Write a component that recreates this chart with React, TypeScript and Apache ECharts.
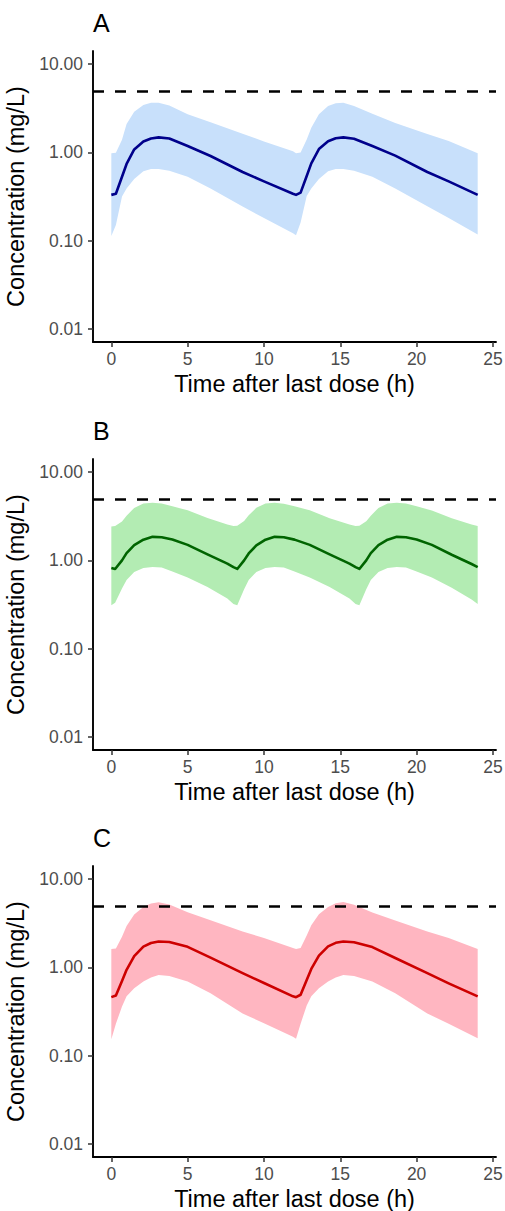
import React, { useEffect, useRef } from "react";
import * as echarts from "echarts";

// ---------- data ----------
const THRESHOLD = 5; // mg/L dashed reference line
const X_TICKS = [0, 5, 10, 15, 20, 25];
const Y_TICKS = [0.01, 0.1, 1, 10];
const PANEL_LABELS = ["A", "B", "C"];
const X_TITLE = "Time after last dose (h)";
const Y_TITLE = "Concentration (mg/L)";

// Panel A (q12h)
const tA = [0, 0.3, 0.7, 1.0, 1.5, 2.1, 2.6, 3.1, 3.8, 5.0, 6.5, 8.6, 10.0, 11.9,
  12.1, 12.4, 12.8, 13.1, 13.6, 14.2, 14.7, 15.2, 15.9, 17.1, 18.6, 20.7, 22.1, 24.0];
const medA = [0.33, 0.34, 0.53, 0.74, 1.08, 1.33, 1.44, 1.48, 1.44, 1.18, 0.91, 0.60, 0.47, 0.34,
  0.33, 0.35, 0.54, 0.75, 1.09, 1.34, 1.45, 1.48, 1.43, 1.18, 0.92, 0.60, 0.47, 0.33];
const hiA = [0.98, 0.99, 1.39, 2.10, 2.90, 3.45, 3.65, 3.65, 3.40, 2.70, 2.20, 1.63, 1.33, 1.03,
  0.98, 1.00, 1.40, 1.90, 2.70, 3.35, 3.62, 3.65, 3.35, 2.75, 2.15, 1.62, 1.35, 0.98];
const loA = [0.113, 0.150, 0.316, 0.390, 0.500, 0.610, 0.650, 0.650, 0.620, 0.530, 0.390, 0.243, 0.180, 0.121,
  0.115, 0.160, 0.320, 0.390, 0.500, 0.610, 0.650, 0.650, 0.620, 0.530, 0.390, 0.245, 0.180, 0.117];

// Panel B (q8h)
const tB = [0, 0.25, 0.7, 1.0, 1.5, 2.1, 2.7, 3.3, 4.0, 5.0, 6.3, 7.6,
  8.0, 8.25, 8.7, 9.0, 9.5, 10.1, 10.7, 11.3, 12.0, 13.0, 14.3, 15.6,
  16.0, 16.25, 16.7, 17.0, 17.5, 18.1, 18.7, 19.3, 20.0, 21.0, 22.3, 23.6, 24.0];
const medB = [0.82, 0.80, 1.00, 1.21, 1.49, 1.72, 1.85, 1.83, 1.73, 1.50, 1.17, 0.92,
  0.84, 0.80, 1.00, 1.20, 1.48, 1.72, 1.85, 1.83, 1.72, 1.50, 1.17, 0.92,
  0.84, 0.80, 1.00, 1.21, 1.49, 1.72, 1.85, 1.83, 1.73, 1.50, 1.16, 0.91, 0.84];
const hiB = [2.43, 2.45, 2.77, 3.22, 3.94, 4.41, 4.50, 4.41, 4.11, 3.70, 3.02, 2.55,
  2.46, 2.47, 2.80, 3.25, 3.95, 4.42, 4.50, 4.40, 4.10, 3.70, 3.00, 2.55,
  2.46, 2.47, 2.78, 3.22, 3.94, 4.41, 4.52, 4.41, 4.10, 3.68, 3.00, 2.55, 2.45];
const loB = [0.31, 0.33, 0.48, 0.60, 0.74, 0.82, 0.84, 0.83, 0.75, 0.64, 0.50, 0.37,
  0.32, 0.31, 0.47, 0.60, 0.74, 0.82, 0.84, 0.83, 0.75, 0.64, 0.50, 0.37,
  0.32, 0.31, 0.47, 0.60, 0.74, 0.82, 0.84, 0.83, 0.75, 0.64, 0.49, 0.36, 0.32];

// Panel C (q12h)
const tC = [0, 0.3, 0.7, 1.0, 1.5, 2.1, 2.6, 3.1, 3.8, 5.0, 6.5, 8.6, 10.0, 11.9,
  12.1, 12.4, 12.8, 13.1, 13.6, 14.2, 14.7, 15.2, 15.9, 17.1, 18.6, 20.7, 22.1, 24.0];
const medC = [0.46, 0.48, 0.70, 0.94, 1.34, 1.72, 1.89, 1.97, 1.94, 1.71, 1.29, 0.86, 0.665, 0.47,
  0.46, 0.49, 0.72, 0.96, 1.36, 1.73, 1.90, 1.97, 1.93, 1.70, 1.28, 0.86, 0.66, 0.47];
const hiC = [1.62, 1.64, 2.23, 2.95, 3.97, 4.84, 5.30, 5.48, 5.16, 4.22, 3.42, 2.56, 2.16, 1.66,
  1.62, 1.66, 2.30, 3.00, 4.00, 4.85, 5.35, 5.50, 5.15, 4.20, 3.40, 2.55, 2.15, 1.62];
const loC = [0.153, 0.23, 0.36, 0.47, 0.58, 0.69, 0.77, 0.82, 0.80, 0.69, 0.51, 0.30, 0.233, 0.164,
  0.155, 0.23, 0.37, 0.47, 0.58, 0.69, 0.77, 0.82, 0.80, 0.69, 0.51, 0.30, 0.23, 0.157];

const PANELS = [
  { t: tA, med: medA, lo: loA, hi: hiA, line: "#00008b", band: "#c8e0fb" },
  { t: tB, med: medB, lo: loB, hi: hiB, line: "#006400", band: "#b3ecb3" },
  { t: tC, med: medC, lo: loC, hi: hiC, line: "#cd0000", band: "#ffb6c1" },
];

// ---------- layout ----------
const FONT = "'Liberation Sans', Arial, sans-serif";
const GRID_LEFT = 93;
const GRID_RIGHT = 9;
const GRID_H = 291;
const GRID_TOPS = [51, 459, 866];
const LABEL_Y = [24, 432, 839];

export default function App() {
  const ref = useRef<HTMLDivElement>(null);
  useEffect(() => {
    if (!ref.current) return;
    const chart = echarts.init(ref.current, null, { renderer: "svg" });

    const grid: any[] = [];
    const xAxis: any[] = [];
    const yAxis: any[] = [];
    const series: any[] = [];
    const graphic: any[] = [];

    PANELS.forEach((p, i) => {
      grid.push({
        left: GRID_LEFT,
        right: GRID_RIGHT,
        top: GRID_TOPS[i],
        height: GRID_H,
        containLabel: false,
        outerBoundsMode: "none",
      });
      xAxis.push({
        type: "value",
        gridIndex: i,
        min: -1.2,
        max: 25.2,
        name: X_TITLE,
        nameLocation: "middle",
        nameGap: 30,
        nameTextStyle: { fontSize: 23.5, color: "#000", fontFamily: FONT },
        axisLine: { show: true, onZero: false, lineStyle: { color: "#000", width: 1.9 } },
        axisTick: { show: true, length: 5, customValues: X_TICKS, lineStyle: { color: "#333", width: 1.5 } },
        axisLabel: { show: true, customValues: X_TICKS, margin: 8, fontSize: 17.5, color: "#4d4d4d", fontFamily: FONT },
        splitLine: { show: false },
      });
      yAxis.push({
        type: "log",
        logBase: 10,
        gridIndex: i,
        min: Math.pow(10, -2.15),
        max: Math.pow(10, 1.15),
        name: Y_TITLE,
        nameLocation: "middle",
        nameGap: 56,
        nameTextStyle: { fontSize: 23.5, color: "#000", fontFamily: FONT },
        axisLine: { show: true, onZero: false, lineStyle: { color: "#000", width: 1.9 } },
        axisTick: { show: true, length: 5, customValues: Y_TICKS, lineStyle: { color: "#333", width: 1.5 } },
        axisLabel: {
          show: true,
          customValues: Y_TICKS,
          margin: 10,
          fontSize: 17.5,
          color: "#4d4d4d",
          fontFamily: FONT,
          formatter: (v: number) => Number(v).toFixed(2),
        },
        splitLine: { show: false },
      });

      const { t, lo, hi } = p;
      series.push({
        type: "custom",
        xAxisIndex: i,
        yAxisIndex: i,
        silent: true,
        z: 1,
        data: t.map((x, k) => [x, lo[k], hi[k]]),
        encode: { x: 0, y: [1, 2] },
        renderItem: (params: any, api: any) => {
          if (params.dataIndex !== 0) return null;
          const pts: number[][] = [];
          for (let k = 0; k < t.length; k++) pts.push(api.coord([t[k], hi[k]]));
          for (let k = t.length - 1; k >= 0; k--) pts.push(api.coord([t[k], lo[k]]));
          return { type: "polygon", shape: { points: pts }, style: { fill: p.band }, silent: true };
        },
      });
      series.push({
        type: "line",
        xAxisIndex: i,
        yAxisIndex: i,
        z: 3,
        silent: true,
        showSymbol: false,
        symbol: "none",
        data: p.t.map((x, k) => [x, p.med[k]]),
        lineStyle: { color: p.line, width: 2.6, join: "round" },
        markLine: {
          silent: true,
          symbol: "none",
          label: { show: false },
          lineStyle: { type: [11, 11], color: "#000", width: 2.5 },
          data: [{ yAxis: THRESHOLD }],
        },
      });

      graphic.push({
        type: "text",
        left: GRID_LEFT,
        top: LABEL_Y[i] - 14,
        style: { text: PANEL_LABELS[i], fontSize: 25, fill: "#000", fontFamily: FONT },
      });
    });

    chart.setOption({
      animation: false,
      backgroundColor: "#fff",
      grid,
      xAxis,
      yAxis,
      series,
      graphic,
    });
    return () => chart.dispose();
  }, []);

  return (
    <div
      ref={ref}
      style={{ position: "absolute", left: 0, top: 0, width: 505, height: 1211, background: "#fff" }}
    />
  );
}
